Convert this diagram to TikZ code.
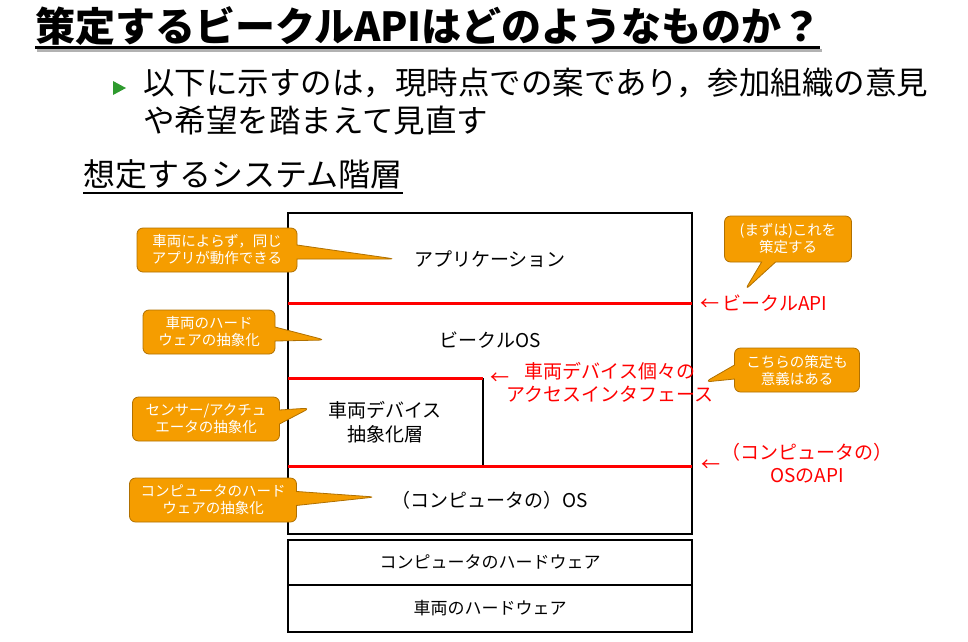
\documentclass[tikz,border=0pt]{standalone}
\usepackage{fontspec}
\setmainfont{Noto Sans CJK JP}
\usetikzlibrary{shapes.callouts,positioning}
\definecolor{noteorange}{HTML}{F59D00}
\definecolor{noteedge}{HTML}{B07000}
\definecolor{apired}{HTML}{FF0000}
\definecolor{bulletgreen}{HTML}{2E9A2E}

\tikzset{
  layer/.style={draw=black,line width=1.5pt},
  apiline/.style={apired,line width=3pt},
  layertext/.style={font=\fontsize{19}{24}\selectfont,align=center},
  apilabel/.style={text=apired,font=\fontsize{19}{23}\selectfont,align=center},
  note/.style={rectangle callout,fill=noteorange,draw=noteedge,line width=0.8pt,
    rounded corners=6pt,text=white,align=center,inner sep=2pt,
    font=\fontsize{14.5}{17}\selectfont,callout pointer width=14pt,minimum height=44pt},
}

\begin{document}
\begin{tikzpicture}[x=1pt,y=-1pt]
    \useasboundingbox (0,0) rectangle (968,641);

    % Title
    \node[anchor=west,font=\fontsize{40}{44}\bfseries\selectfont,inner sep=0pt] (title) at (35,26) {策定するビークルAPIはどのようなものか？};
    \draw[gray!60,line width=3pt] (37,50) -- (822,50);
    \draw[line width=3pt] (35,47) -- (820,47);

    % Bullet
    \fill[bulletgreen] (113,81) -- (126,88) -- (113,95) -- cycle;
    \node[anchor=north west,align=left,inner sep=0pt,font=\fontsize{31.5}{38}\selectfont] (intro) at (143,68)
        {以下に示すのは，現時点での案であり，参加組織の意見\\や希望を踏まえて見直す};

    % Subtitle
    \node[anchor=west,inner sep=0pt,font=\fontsize{32}{36}\selectfont] (sub) at (83,174) {想定するシステム階層};
    \draw[line width=1.5pt] (83,193) -- (403,193);

    % Layers
    \draw[layer] (288,213) rectangle (692,534);
    \draw[layer] (483,378) -- (483,466);
    \draw[apiline] (288,303) -- (692,303);
    \draw[apiline] (288,378) -- (483,378);
    \draw[apiline] (288,466) -- (692,466);
    \draw[layer] (288,540) rectangle (692,585);
    \draw[layer] (288,585) rectangle (692,632);

    \node[layertext] (app) at (490,259) {アプリケーション};
    \node[layertext] (vos) at (490,340) {ビークルOS};
    \node[layertext] (dev) at (385,422) {車両デバイス\\抽象化層};
    \node[layertext] (cos) at (490,500) {（コンピュータの）OS};
    \node[layertext,font=\fontsize{17}{20}\selectfont] (chw) at (490,562) {コンピュータのハードウェア};
    \node[layertext,font=\fontsize{17}{20}\selectfont] (vhw) at (490,608) {車両のハードウェア};

    % API labels
    \node[apilabel,anchor=west] (vapi) at (697,303) {←\,ビークルAPI};
    \node[apilabel] (devarr) at (500,379) {←};
    \node[apilabel] (devapi) at (610,382) {車両デバイス個々の\\アクセスインタフェース};
    \node[apilabel] (osarr) at (711,466) {←};
    \node[apilabel] (osapi) at (807,463) {（コンピュータの）\\OSのAPI};

    % Notes
    \coordinate (tipapp) at (395,259);
    \coordinate (tipvos) at (325,340);
    \coordinate (tipdev) at (310,408);
    \coordinate (tipcos) at (375,497);
    \coordinate (tipvapi) at (745,290);
    \coordinate (tipdevapi) at (705,382);
    \node[note,minimum width=160pt,callout absolute pointer=(tipapp)] (n1) at (217,250) {車両によらず，同じ\\アプリが動作できる};
    \node[note,minimum width=132pt,callout absolute pointer=(tipvos)] (n2) at (209,332) {車両のハード\\ウェアの抽象化};
    \node[note,minimum width=147pt,callout absolute pointer=(tipdev)] (n3) at (206,419) {センサー/アクチュ\\エータの抽象化};
    \node[note,minimum width=167pt,callout absolute pointer=(tipcos)] (n4) at (213,500) {コンピュータのハード\\ウェアの抽象化};
    \node[note,minimum width=127pt,minimum height=46pt,callout absolute pointer=(tipvapi)] (n5) at (788,239) {(まずは)これを\\策定する};
    \node[note,minimum width=125pt,callout absolute pointer=(tipdevapi)] (n6) at (797,370) {こちらの策定も\\意義はある};
\end{tikzpicture}
\end{document}
